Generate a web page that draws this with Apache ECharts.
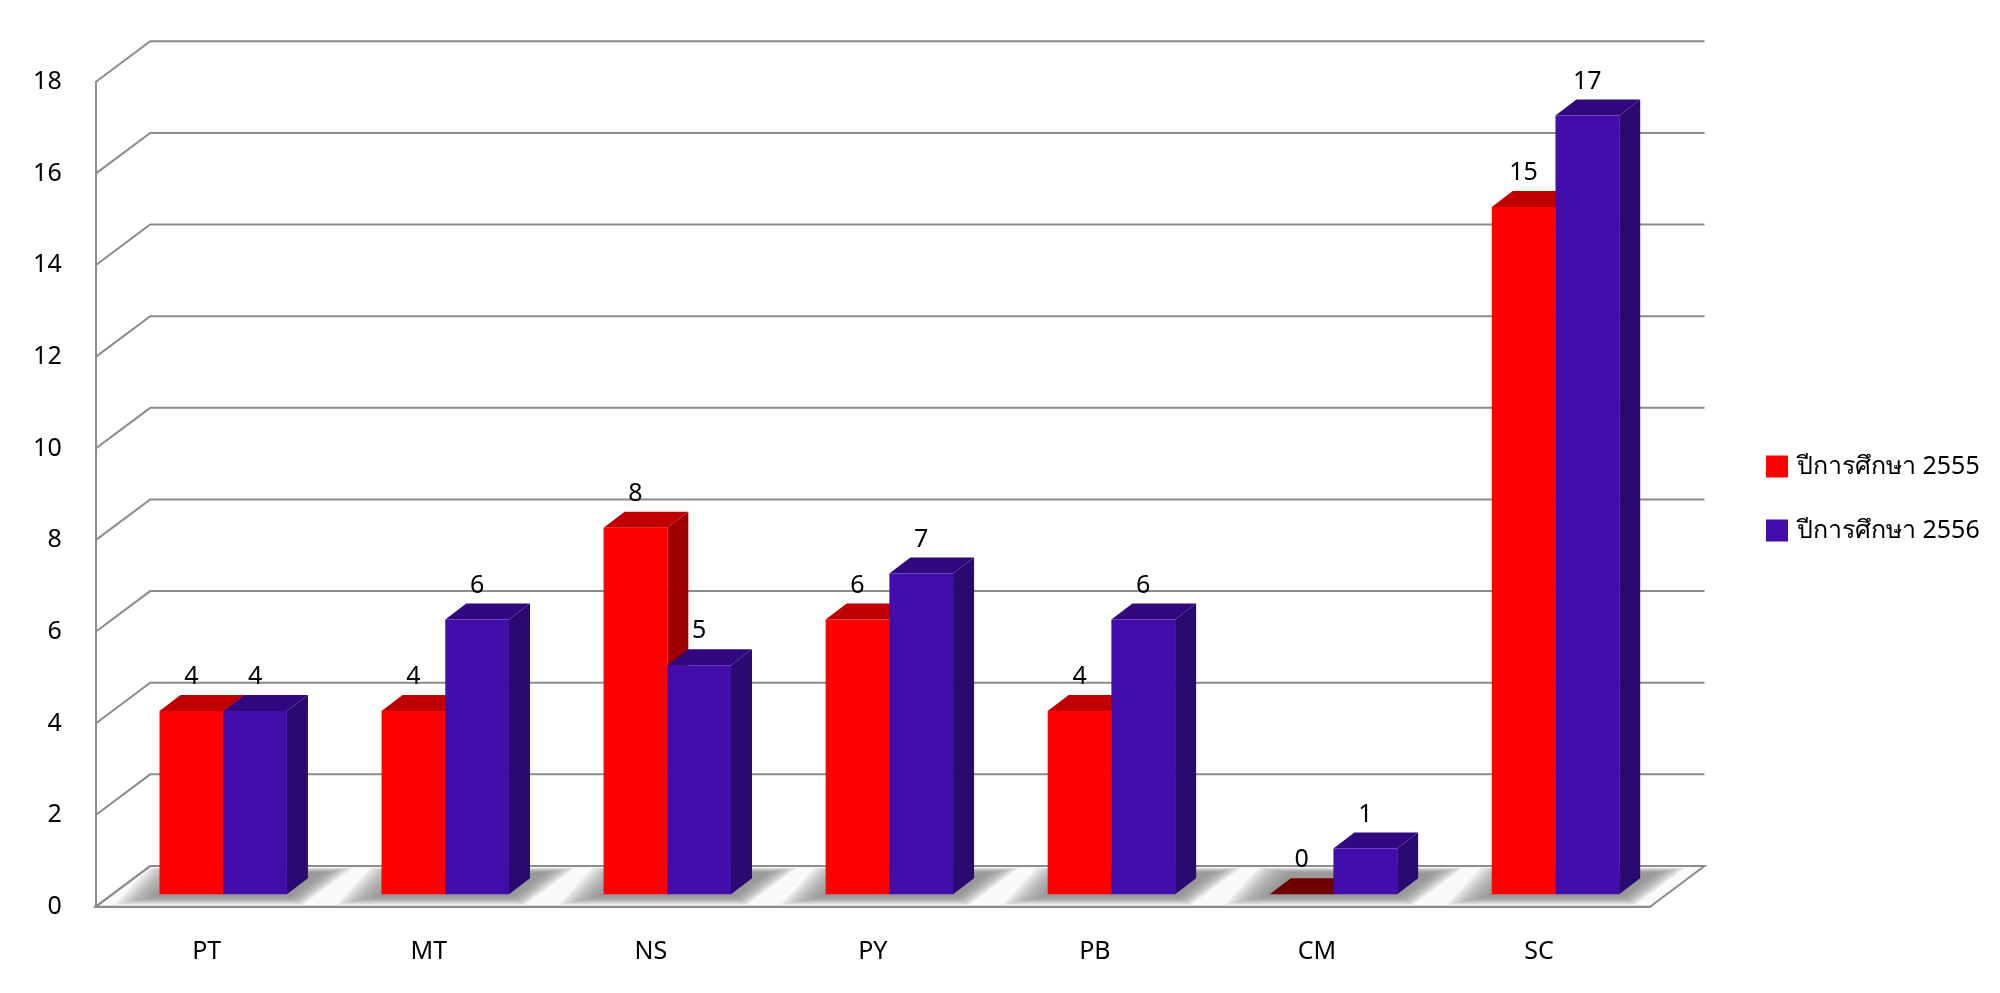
<!DOCTYPE html>
<html><head><meta charset="utf-8">
<style>html,body{margin:0;padding:0;background:#fff}#c{width:2000px;height:993px}</style>
<script src="https://cdn.jsdelivr.net/npm/echarts@6/dist/echarts.min.js"></script>
</head><body><div id="c"></div>
<script>
const categories = ['PT','MT','NS','PY','PB','CM','SC'];
const values2555 = [4,4,8,6,4,0,15];
const values2556 = [4,6,5,7,6,1,17];
const yTicks = [0,2,4,6,8,10,12,14,16,18];
const name2555 = 'ปีการศึกษา 2555';
const name2556 = 'ปีการศึกษา 2556';

const FONT = '"Noto Sans","Open Sans",sans-serif';
const FS = 25;
const WALL = [54.5,-40.7], BAR_FRONT = [16.5,-12.4], BAR_DEPTH = [21,-16];
const BAR_FRAC = 63.7/222;
const GRAY = '#8c8c8c';
const SHADOW_OUTER = [[-92,-2],[96,-2],[146,-39],[-58,-39]];
const SHADOW_INNER = [[-52,-10],[84,-10],[116,-34],[-26,-34]];
const SHADOW_LAYERS = 12;
const chart = echarts.init(document.getElementById('c'));

const add = (p,d)=>[p[0]+d[0],p[1]+d[1]];

function floorPts(api){
  const a=api.coord([0,0]), b=api.coord([categories.length-1,0]);
  const w=api.size([1,0])[0];
  const L=[a[0]-w/2,a[1]], R=[b[0]+w/2,b[1]];
  return [L,R,add(R,WALL),add(L,WALL)];
}
function floorItem(params,api){
  return {type:'polygon',shape:{points:floorPts(api)},
    style:{fill:'#fafafa',stroke:GRAY,lineWidth:2}};
}
function shadowItem(params,api){
  const c=api.coord([api.value(0),0]);
  const children=[];
  for(let k=0;k<SHADOW_LAYERS;k++){
    const t=k/(SHADOW_LAYERS-1);
    const pts=SHADOW_OUTER.map((o,i)=>[c[0]+o[0]+(SHADOW_INNER[i][0]-o[0])*t, c[1]+o[1]+(SHADOW_INNER[i][1]-o[1])*t]);
    children.push({type:'polygon',shape:{points:pts},style:{fill:'rgba(128,128,128,0.12)'}});
  }
  return {type:'group',children};
}
function gridItem(params,api){
  const p=api.coord([0,api.value(0)]);
  const w=api.size([1,0])[0];
  const f=[p[0]-w/2,p[1]];
  const back=add(f,WALL);
  const right=[back[0]+w*categories.length,back[1]];
  return {type:'polyline',shape:{points:[f,back,right]},style:{fill:'none',stroke:GRAY,lineWidth:2}};
}
function barRenderer(side,front,top,flank){
  return function(params,api){
    const cat=api.value(0), v=api.value(1);
    const base=api.coord([cat,0]), head=api.coord([cat,v]);
    const bw=api.size([1,0])[0]*BAR_FRAC;
    const x0=base[0]+BAR_FRONT[0]+(side<0?-bw:0), x1=x0+bw;
    const yb=base[1]+BAR_FRONT[1], yt=head[1]+BAR_FRONT[1];
    const A=[x0,yt],B=[x1,yt],C=[x1,yb],D=[x0,yb];
    const topFill=v===0?'#700000':top;
    return {type:'group',children:[
      {type:'polygon',shape:{points:[B,add(B,BAR_DEPTH),add(C,BAR_DEPTH),C]},style:{fill:flank}},
      {type:'polygon',shape:{points:[A,add(A,BAR_DEPTH),add(B,BAR_DEPTH),B]},style:{fill:topFill}},
      {type:'polygon',shape:{points:[A,B,C,D]},style:{fill:front}},
      {type:'text',style:{text:String(v),x:(x0+x1)/2,y:yt+BAR_DEPTH[1]-18,align:'center',verticalAlign:'middle',
        font:FS+'px '+FONT,fill:'#000'},z2:10}
    ]};
  };
}
chart.setOption({
  animation:false,
  backgroundColor:'#fff',
  grid:{left:95.7,right:350,top:82,bottom:86.3,containLabel:false},
  xAxis:{type:'category',data:categories,
    axisLine:{lineStyle:{color:GRAY,width:3}},axisTick:{show:false},
    axisLabel:{color:'#000',fontFamily:FONT,fontSize:FS,margin:33}},
  yAxis:{type:'value',min:0,max:18,interval:2,
    axisLine:{show:true,lineStyle:{color:GRAY,width:2}},axisTick:{show:false},splitLine:{show:false},
    axisLabel:{color:'#000',fontFamily:FONT,fontSize:FS,margin:34}},
  legend:{orient:'vertical',left:1761,top:449,itemWidth:22,itemHeight:22,itemGap:39,icon:'rect',
    data:[name2555,name2556],textStyle:{color:'#000',fontFamily:FONT,fontSize:FS,padding:[0,0,0,4]}},
  series:[
    {type:'custom',silent:true,z:1,data:[[0]],renderItem:floorItem,clip:false},
    {type:'custom',silent:true,z:2,data:categories.map((c,i)=>[i]),renderItem:shadowItem,clip:false},
    {type:'custom',silent:true,z:3,data:yTicks.map(t=>[t]),renderItem:gridItem,clip:false},
    {type:'custom',name:name2555,z:4,itemStyle:{color:'#ff0000'},encode:{x:0,y:1},
      data:values2555.map((v,i)=>[i,v]),renderItem:barRenderer(-1,'#ff0000','#c00000','#a00000'),clip:false},
    {type:'custom',name:name2556,z:5,itemStyle:{color:'#420dab'},encode:{x:0,y:1},
      data:values2556.map((v,i)=>[i,v]),renderItem:barRenderer(1,'#420dab','#310880','#2a0970'),clip:false}
  ]
});
</script></body></html>
